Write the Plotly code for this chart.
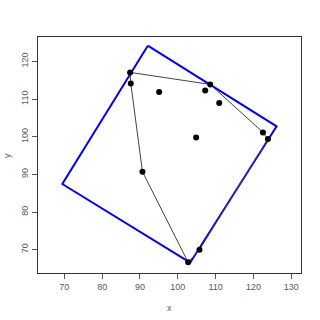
import plotly.graph_objects as go

# data points
px = [87.39, 87.57, 95.07, 90.65, 108.57, 107.24, 110.95, 104.86, 122.51, 123.83, 105.73, 102.74]
py = [117.08, 114.16, 111.87, 90.72, 113.89, 112.30, 108.96, 99.82, 101.15, 99.39, 70.0, 66.64]

# convex hull (closed)
hull_x = [87.39, 108.57, 122.51, 123.83, 105.73, 102.74, 90.65, 87.57, 87.39]
hull_y = [117.08, 113.89, 101.15, 99.39, 70.0, 66.64, 90.72, 114.16, 117.08]

# minimum bounding rectangle (closed)
rect_x = [92.07, 126.12, 103.27, 69.47, 92.07]
rect_y = [124.17, 102.74, 66.55, 87.45, 124.17]

x_ticks = [70, 80, 90, 100, 110, 120, 130]
y_ticks = [70, 80, 90, 100, 110, 120]

fig = go.Figure()
fig.add_trace(go.Scatter(x=rect_x, y=rect_y, mode="lines",
                         line=dict(color="#0000ff", width=2), hoverinfo="skip"))
fig.add_trace(go.Scatter(x=hull_x, y=hull_y, mode="lines",
                         line=dict(color="#444444", width=1), hoverinfo="skip"))
fig.add_trace(go.Scatter(x=px, y=py, mode="markers",
                         marker=dict(color="black", size=6)))

axis_common = dict(showgrid=False, zeroline=False, showline=True, mirror=True,
                   linecolor="#333333", linewidth=1, ticks="outside", ticklen=5,
                   tickcolor="#555555", tickfont=dict(size=9, color="#505a66"),
                   automargin=False)

fig.update_layout(
    width=320, height=320,
    margin=dict(l=38, r=19, t=37, b=47),
    paper_bgcolor="white", plot_bgcolor="white",
    showlegend=False,
    font=dict(family="Liberation Sans, Arial, sans-serif", color="#505a66"),
    xaxis=dict(range=[63.04, 132.57], tickvals=x_ticks, **axis_common),
    yaxis=dict(range=[63.81, 126.48], tickvals=y_ticks, tickangle=-90, **axis_common),
    annotations=[
        dict(text="x", xref="paper", yref="paper", x=0.5, y=-0.15,
             showarrow=False, font=dict(size=9, color="#505a66"),
             xanchor="center", yanchor="middle"),
        dict(text="y", xref="paper", yref="paper", x=-0.118, y=0.5,
             showarrow=False, textangle=-90, font=dict(size=9, color="#505a66"),
             xanchor="center", yanchor="middle"),
    ],
)
fig.write_html("out.html")
